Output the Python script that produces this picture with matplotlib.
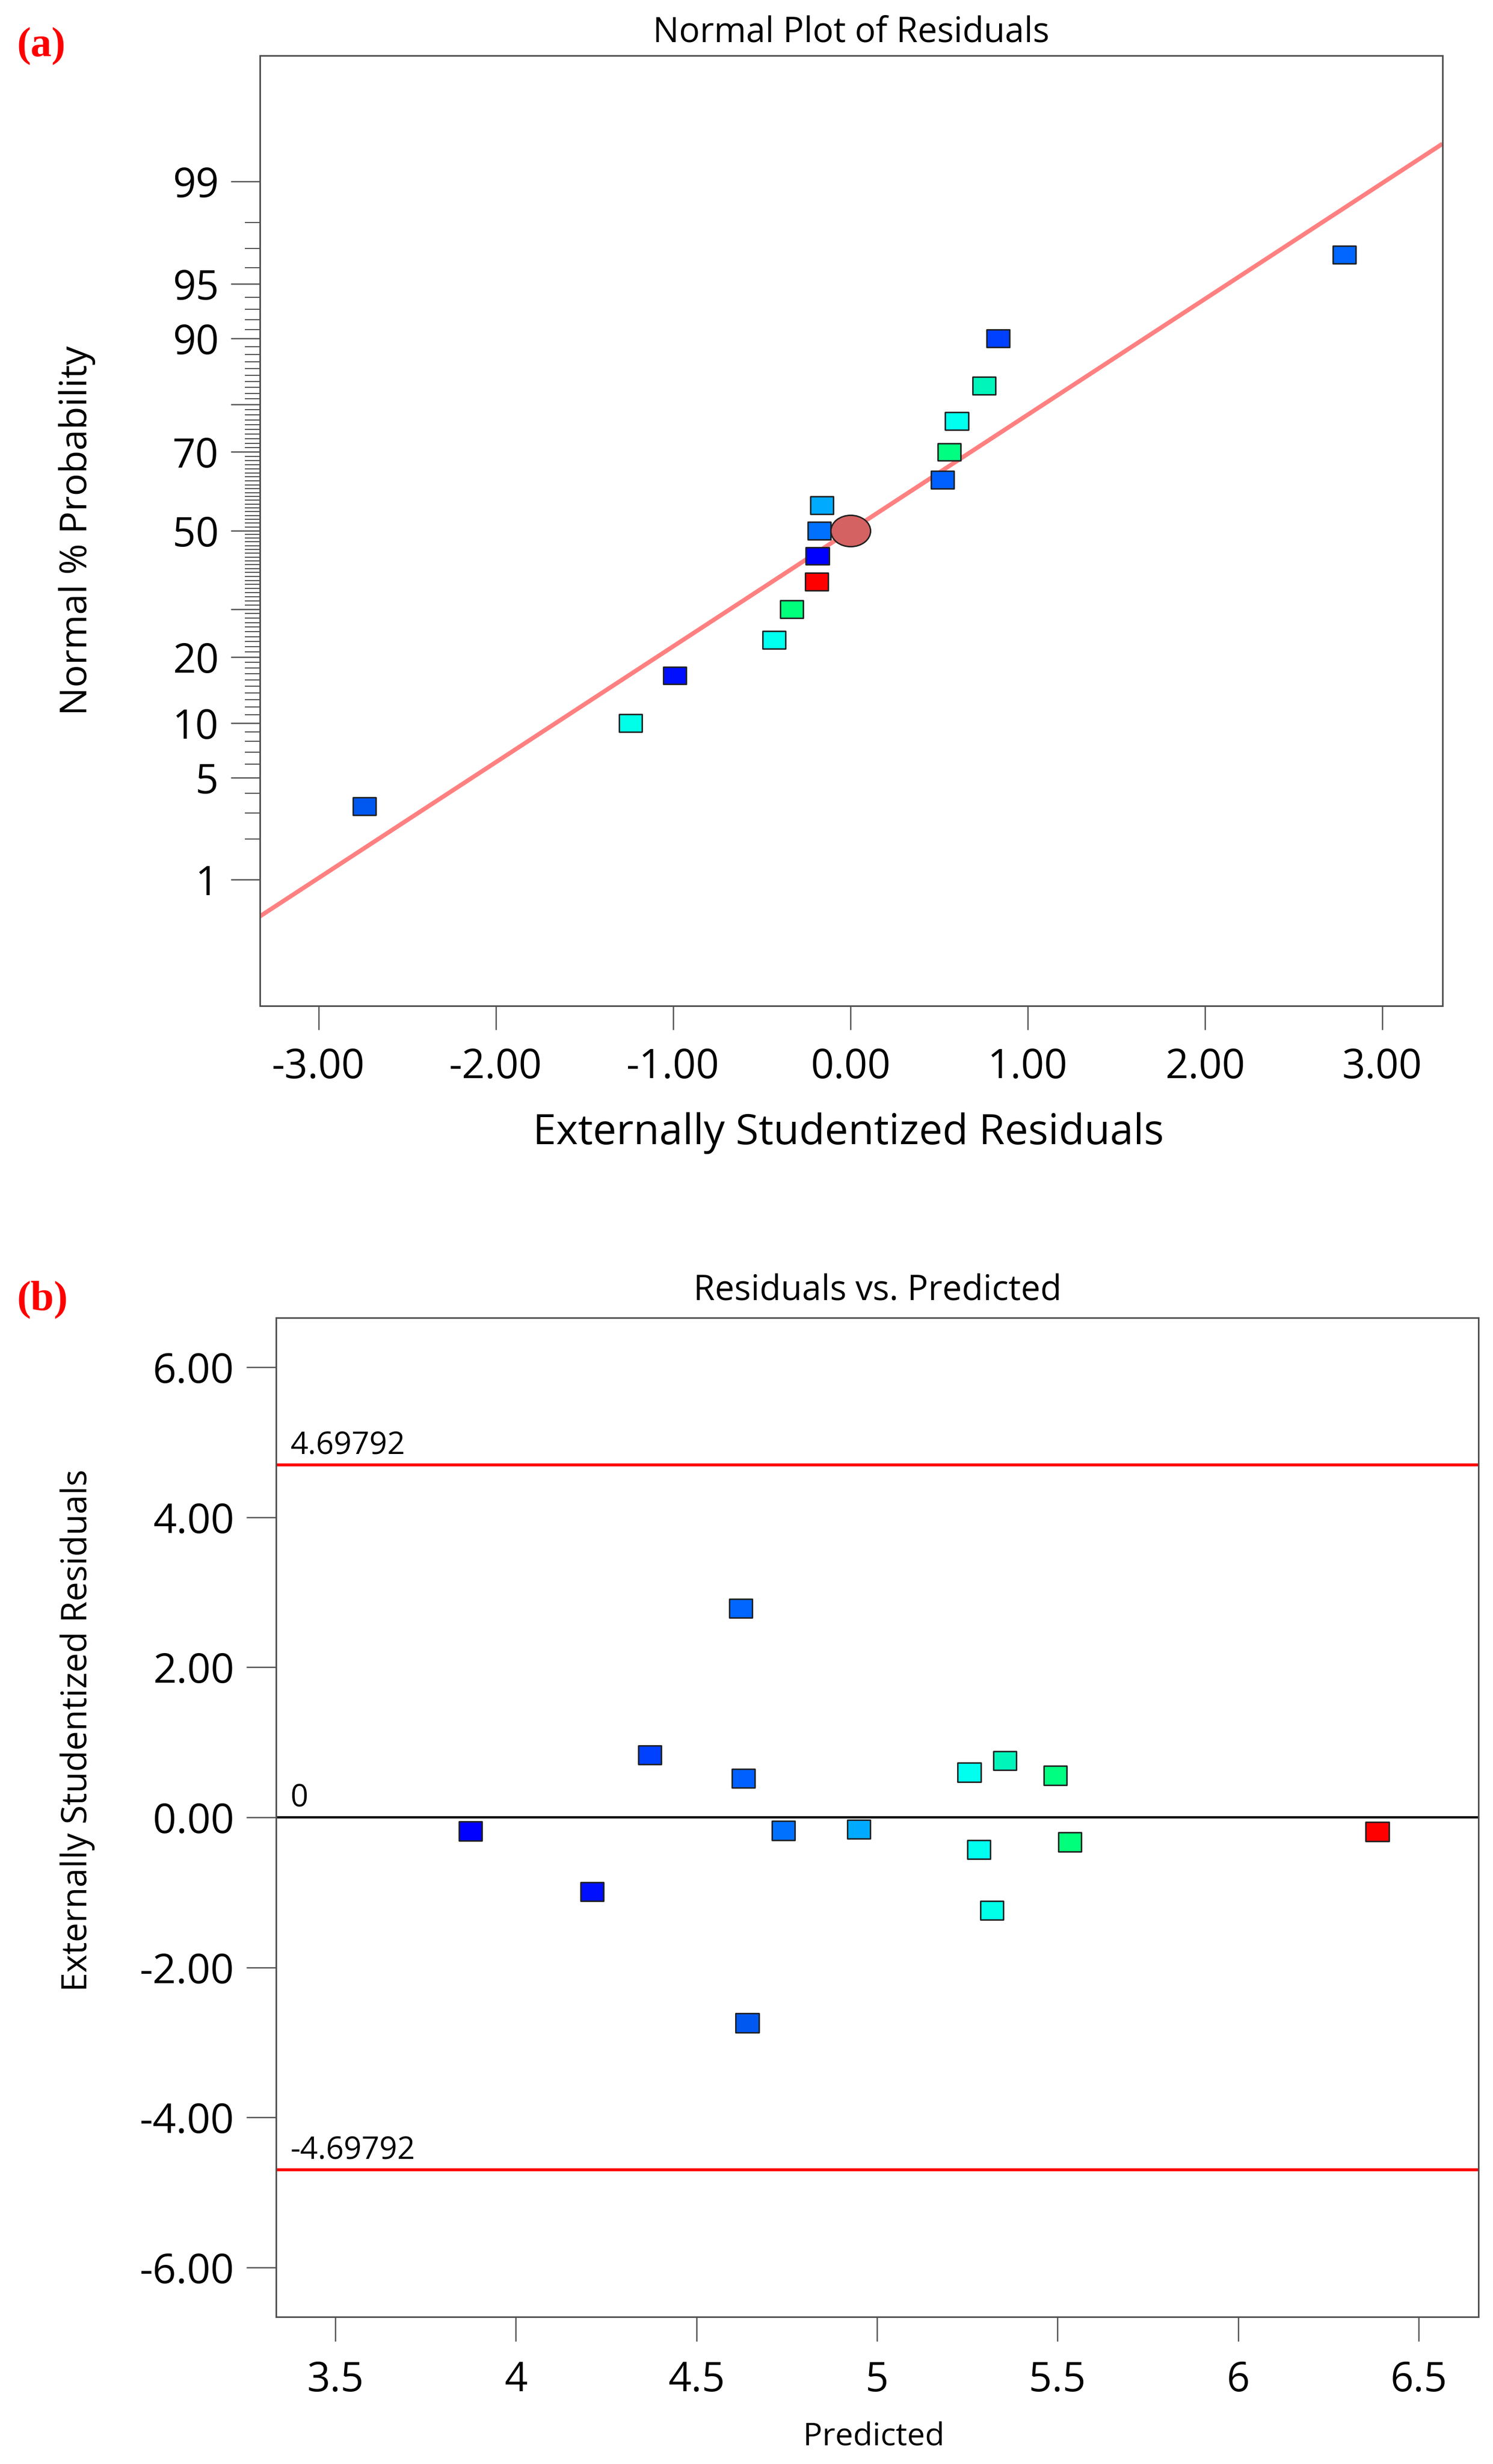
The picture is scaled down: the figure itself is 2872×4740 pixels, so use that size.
import numpy as np
import matplotlib
matplotlib.use('Agg')
import matplotlib.pyplot as plt
from matplotlib.path import Path
from statistics import NormalDist

plt.rcParams['font.family'] = ['Open Sans', 'DejaVu Sans']

# runs, ordered by rank of residual
residuals = [-2.74, -1.24, -0.99, -0.43, -0.33, -0.19, -0.185, -0.176, -0.16,
             0.52, 0.557, 0.60, 0.754, 0.833, 2.786]
normal_pct = [3.3, 10.0, 16.7, 23.3, 30.0, 36.7, 43.3, 50.0, 56.7,
              63.3, 70.0, 76.7, 83.3, 90.0, 96.7]
predicted = [4.641, 5.318, 4.211, 5.282, 5.534, 6.386, 3.874, 4.741, 4.950,
             4.630, 5.494, 5.256, 5.354, 4.371, 4.623]
point_colors = ['#0058F0', '#00FFE8', '#0010FF', '#00FFEE', '#00FF7A', '#FF0000',
                '#0000FF', '#0070FF', '#00AAFF', '#0060FF', '#00FF80', '#00FFEE',
                '#00F5BB', '#0040FF', '#0066FF']

fit_slope = 0.772          # normal line, z per residual
center_point = (0.0, 50.0)
limit_value = 4.69792

prob_major = [1, 5, 10, 20, 30, 50, 70, 80, 90, 95, 99]
prob_labels = ['1', '5', '10', '20', '', '50', '70', '', '90', '95', '99']
prob_minor = [p for p in range(1, 100) if p not in prob_major]
resid_ticks = [-3, -2, -1, 0, 1, 2, 3]
pred_ticks = [3.5, 4, 4.5, 5, 5.5, 6, 6.5]
stud_ticks = [-6, -4, -2, 0, 2, 4, 6]

_nd = NormalDist()


def prob_fwd(p):
    p = np.clip(np.asarray(p, dtype=float), 1e-6, 100 - 1e-6)
    return np.vectorize(lambda v: _nd.inv_cdf(v / 100.0), otypes=[float])(p)


def prob_inv(z):
    z = np.asarray(z, dtype=float)
    return np.vectorize(lambda v: _nd.cdf(v) * 100.0, otypes=[float])(z)


def box_marker(aspect):
    v = np.array([[-1, -aspect], [1, -aspect], [1, aspect], [-1, aspect], [-1, -aspect]])
    return Path(v, closed=True)


circ = Path.unit_circle()
ellipse_marker = Path(circ.vertices * np.array([1.0, 0.79]), circ.codes)

spine_col = '#505050'
edge_col = '#202020'
fig = plt.figure(figsize=(28.72, 47.40), dpi=100)

# ---------------- (a) normal plot ----------------
ax1 = fig.add_axes([0.1741, 0.5918, 0.7921, 0.3857])
ax1.set_yscale('function', functions=(prob_fwd, prob_inv))
ax1.set_xlim(-3.33, 3.34)
ax1.set_ylim(0.077, 99.923)

lx = np.array(ax1.get_xlim())
ax1.plot(lx, prob_inv(fit_slope * lx), color='#FF8080', lw=6, zorder=2,
         solid_capstyle='butt')
ax1.scatter(residuals, normal_pct, s=32 ** 2, marker=box_marker(0.76),
            c=point_colors, edgecolors=edge_col, linewidths=2, zorder=3)
ax1.scatter([center_point[0]], [center_point[1]], s=55 ** 2, marker=ellipse_marker,
            c='#D46262', edgecolors=edge_col, linewidths=2, zorder=4)

ax1.set_yticks(prob_major, prob_labels)
ax1.set_yticks(prob_minor, minor=True)
ax1.yaxis.set_minor_formatter(matplotlib.ticker.NullFormatter())
ax1.set_xticks(resid_ticks, ['%.2f' % t for t in resid_ticks])
ax1.tick_params(axis='y', which='major', length=40, width=1.8, color=spine_col,
                pad=17, labelsize=56)
ax1.tick_params(axis='y', which='minor', length=21, width=1.5, color=spine_col)
ax1.tick_params(axis='x', which='major', length=33, width=1.8, color=spine_col,
                pad=24, labelsize=56)
ax1.set_title('Normal Plot of Residuals', fontsize=48, pad=19)
ax1.set_xlabel('Externally Studentized Residuals', fontsize=58, va='center')
ax1.xaxis.set_label_coords(0.4976, -0.134)
ax1.set_ylabel('Normal % Probability', fontsize=52, va='center')
ax1.yaxis.set_label_coords(-0.1547, 0.5)
for s in ax1.spines.values():
    s.set_color(spine_col)
    s.set_linewidth(2.2)

# ---------------- (b) residuals vs predicted ----------------
ax2 = fig.add_axes([0.1849, 0.0597, 0.8054, 0.4055])
ax2.set_xlim(3.336, 6.666)
ax2.set_ylim(-6.66, 6.66)

ax2.axhline(limit_value, color='#FF0000', lw=4, zorder=2)
ax2.axhline(-limit_value, color='#FF0000', lw=4, zorder=2)
ax2.axhline(0, color='black', lw=3.2, zorder=2)
ax2.scatter(predicted, residuals, s=32 ** 2, marker=box_marker(0.82),
            c=point_colors, edgecolors=edge_col, linewidths=2, zorder=3)

tr = ax2.get_yaxis_transform()
for val, txt in [(limit_value, '4.69792'), (0, '0'), (-limit_value, '-4.69792')]:
    ax2.annotate(txt, xy=(0.012, val), xycoords=tr, xytext=(0, 15),
                 textcoords='offset points', fontsize=43, va='baseline', ha='left')

ax2.set_xticks(pred_ticks, ['%g' % t for t in pred_ticks])
ax2.set_yticks(stud_ticks, ['%.2f' % t for t in stud_ticks])
ax2.tick_params(axis='y', length=41, width=1.8, color=spine_col, pad=17, labelsize=57)
ax2.tick_params(axis='x', length=34, width=1.8, color=spine_col, pad=26, labelsize=56)
ax2.set_title('Residuals vs. Predicted', fontsize=48, pad=24)
ax2.set_xlabel('Predicted', fontsize=44, va='center')
ax2.xaxis.set_label_coords(0.497, -0.120)
ax2.set_ylabel('Externally Studentized Residuals', fontsize=48, va='center')
ax2.yaxis.set_label_coords(-0.165, 0.587)
for s in ax2.spines.values():
    s.set_color(spine_col)
    s.set_linewidth(2.2)

fig.text(32 / 2872, 1 - 53 / 4740, '(a)', color='#FF0000', fontweight='bold',
         family='Liberation Serif', fontsize=58, va='top', ha='left')
fig.text(32 / 2872, 1 - 2464 / 4740, '(b)', color='#FF0000', fontweight='bold',
         family='Liberation Serif', fontsize=58, va='top', ha='left')

fig.savefig('out.png', dpi=100, facecolor='white')
